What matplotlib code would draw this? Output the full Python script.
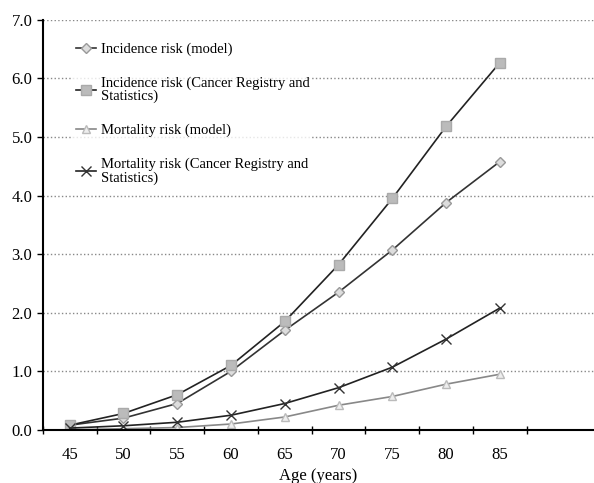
import matplotlib.pyplot as plt
from matplotlib.ticker import FixedLocator

plt.rcParams['font.family'] = ['Liberation Serif', 'DejaVu Serif']

ages = ['45', '50', '55', '60', '65', '70', '75', '80', '85']
inc_model = [0.08, 0.20, 0.45, 1.00, 1.70, 2.35, 3.07, 3.88, 4.58]
inc_registry = [0.08, 0.28, 0.60, 1.10, 1.85, 2.82, 3.95, 5.18, 6.27]
mort_model = [0.00, 0.02, 0.04, 0.10, 0.22, 0.42, 0.57, 0.78, 0.95]
mort_registry = [0.03, 0.07, 0.13, 0.25, 0.45, 0.72, 1.07, 1.55, 2.08]

x = list(range(len(ages)))

fig = plt.figure(figsize=(5.94, 4.83), dpi=100)
ax = fig.add_axes([0.072, 0.11, 0.928, 0.849])

ax.plot(x, inc_model, color='#333333', lw=1.2, marker='D', ms=5.5,
        mfc='#dddddd', mec='#999999', label='Incidence risk (model)')
ax.plot(x, inc_registry, color='#222222', lw=1.2, marker='s', ms=7.5,
        mfc='#bbbbbb', mec='#aaaaaa',
        label='Incidence risk (Cancer Registry and\nStatistics)')
ax.plot(x, mort_model, color='#888888', lw=1.2, marker='^', ms=6,
        mfc='#eeeeee', mec='#bbbbbb', label='Mortality risk (model)')
ax.plot(x, mort_registry, color='#222222', lw=1.2, marker='x', ms=7.5,
        mec='#333333', label='Mortality risk (Cancer Registry and\nStatistics)')

ax.set_xlim(-0.5, 9.75)
ax.set_ylim(0, 7)
ax.set_xticks(x)
ax.set_xticklabels(ages, fontsize=12)
ax.tick_params(axis='x', which='major', length=0, pad=12)
ax.xaxis.set_minor_locator(FixedLocator([i + 0.5 for i in range(-1, 9)]))
ax.tick_params(axis='x', which='minor', length=6, direction='inout', width=1)
ax.set_yticks(range(8))
ax.set_yticklabels(['%.1f' % v for v in range(8)], fontsize=12)
ax.tick_params(axis='y', length=4, direction='out', width=1)

ax.yaxis.grid(True, linestyle=':', color='#888888', lw=1)
ax.set_axisbelow(True)
for s in ['top', 'right']:
    ax.spines[s].set_visible(False)
ax.spines['left'].set_linewidth(1.5)
ax.spines['bottom'].set_linewidth(1.5)

ax.set_xlabel('Age (years)', fontsize=12, labelpad=4)

leg = ax.legend(loc='upper left', bbox_to_anchor=(0.055, 0.952), frameon=True,
                fontsize=10.5, handlelength=1.4, labelspacing=1.4,
                handletextpad=0.3, borderaxespad=0, borderpad=0.2)
leg.get_frame().set_facecolor('white')
leg.get_frame().set_edgecolor('none')
for t in leg.get_texts():
    t.set_linespacing(1.0)

fig.savefig('out.png', dpi=100)
